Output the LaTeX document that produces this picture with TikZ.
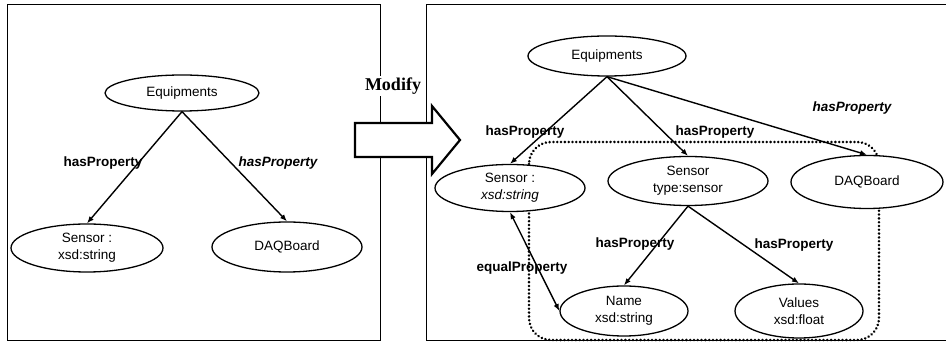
\documentclass[tikz,border=0pt]{standalone}
\usepackage{fontspec}
\setmainfont{Liberation Sans}
\newfontfamily\serifmod{Liberation Serif}
\usetikzlibrary{shapes.geometric,arrows.meta}
\tikzset{
  ell/.style={ellipse, draw, line width=1.3pt, fill=white, inner sep=0pt, align=center,
    font=\fontsize{13.5}{17}\selectfont},
  rel/.style={line width=1.4pt, -{Latex[length=7pt,width=5.5pt]}},
  lbl/.style={font=\fontsize{13.5}{16}\selectfont\bfseries, inner sep=0pt},
  ilbl/.style={font=\fontsize{13.5}{16}\selectfont\bfseries\itshape, inner sep=0pt},
  frame/.style={line width=1pt},
  grp/.style={line width=2.8pt, line cap=round, dash pattern=on 0.01pt off 3.8pt, rounded corners=22pt}
}
\begin{document}
\begin{tikzpicture}[x=1pt,y=-1pt]
\useasboundingbox (0,0) rectangle (946,344);
% frames
\draw[frame] (7,5) rectangle (380,341);
\draw[frame] (946,5) -- (426,5) -- (426,341) -- (946,341);
% modify arrow
\draw[line width=2.2pt, fill=white, line join=miter]
  (355,123) -- (432,123) -- (432,106) -- (460,140) -- (432,174) -- (432,157) -- (355,157) -- cycle;
\node[fill=white, inner sep=2pt, font=\serifmod\bfseries\fontsize{18}{20}\selectfont] (mod) at (393,86) {Modify};
% dotted group
\draw[grp] (529,142) rectangle (879,340);
% left nodes
\node[ell, minimum width=154pt, minimum height=36pt] (eqL) at (182,93) {Equipments};
\node[ell, minimum width=152pt, minimum height=48pt] (senL) at (87,248) {Sensor :\\xsd:string};
\node[ell, minimum width=150pt, minimum height=50pt] (daqL) at (287,247) {DAQBoard};
% right nodes
\node[ell, minimum width=158pt, minimum height=40pt] (eqR) at (607,56) {Equipments};
\node[ell, minimum width=150pt, minimum height=47pt] (senR) at (510,188) {Sensor :\\\textit{xsd:string}};
\node[ell, minimum width=160pt, minimum height=49pt] (typ) at (688,181) {Sensor\\type:sensor};
\node[ell, minimum width=152pt, minimum height=53pt] (daqR) at (867,182) {DAQBoard};
\node[ell, minimum width=128pt, minimum height=50pt] (name) at (624,311) {Name\\xsd:string};
\node[ell, minimum width=128pt, minimum height=54pt] (val) at (799,311) {Values\\xsd:float};
% left edges
\draw[rel] (eqL.south) -- (senL.north);
\draw[rel] (eqL.south) -- (daqL.north);
\node[lbl] (l1) at (103,163) {hasProperty};
\node[ilbl] (l2) at (278,163) {hasProperty};
% right edges
\draw[rel] (eqR.south) -- (senR.north);
\draw[rel] (eqR.south) -- (typ.north);
\draw[rel] (eqR.south) -- (daqR.north);
\draw[rel] (typ.south) -- (name.north);
\draw[rel] (typ.south) -- (val.north);
\draw[line width=1.4pt, {Latex[length=7pt,width=5.5pt]}-{Latex[length=7pt,width=5.5pt]}] (senR.south) -- (name.west);
\node[lbl] (r1) at (525,132) {hasProperty};
\node[lbl] (r2) at (715,132) {hasProperty};
\node[ilbl] (r3) at (852,108) {hasProperty};
\node[lbl] (r4) at (635,244) {hasProperty};
\node[lbl] (r5) at (794,245) {hasProperty};
\node[lbl] (r6) at (522,268) {equalProperty};
\end{tikzpicture}
\end{document}
